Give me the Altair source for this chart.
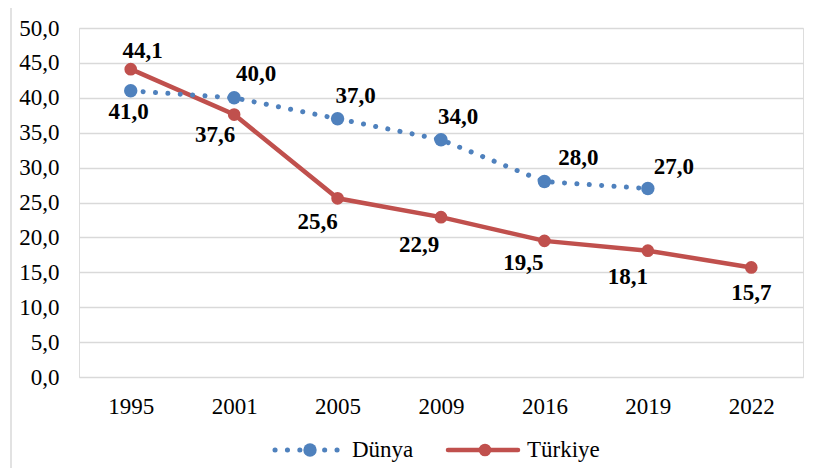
import altair as alt
import pandas as pd

years = ["1995", "2001", "2005", "2009", "2016", "2019", "2022"]
dunya = [41.0, 40.0, 37.0, 34.0, 28.0, 27.0]
turkiye = [44.1, 37.6, 25.6, 22.9, 19.5, 18.1, 15.7]
series_names = ["Dünya", "Türkiye"]
colors = ["#4F81BD", "#C0504D"]

# label offsets (pixels) relative to each point
dunya_dx = [-2, 22, 18, 17, 34, 26]
dunya_dy = [21, -24, -23, -23, -24, -22]
turk_dx = [12, -19, -20, -22, -21, -20, 0]
turk_dy = [-18, 20, 24, 28, 22, 26, 26]

def fmt(v):
    return f"{v:.1f}".replace(".", ",")

rows = []
for i, v in enumerate(dunya):
    rows.append({"year": years[i], "value": v, "series": series_names[0],
                 "label": fmt(v), "dx": dunya_dx[i], "dy": dunya_dy[i]})
for i, v in enumerate(turkiye):
    rows.append({"year": years[i], "value": v, "series": series_names[1],
                 "label": fmt(v), "dx": turk_dx[i], "dy": turk_dy[i]})
df = pd.DataFrame(rows)

FONT = "'Liberation Serif', 'Times New Roman', 'DejaVu Serif', serif"
FS = 23

x = alt.X("year:O", sort=years, scale=alt.Scale(domain=years, paddingOuter=0.5, paddingInner=0),
          axis=alt.Axis(title=None, labelAngle=0, labelFontSize=FS, labelFont=FONT, labelColor="#000",
                        labelPadding=18, ticks=False, domain=False, grid=False))
y = alt.Y("value:Q", scale=alt.Scale(domain=[0, 50]),
          axis=alt.Axis(title=None, values=list(range(0, 51, 5)), labelExpr="replace(format(datum.value, '.1f'), '.', ',')",
                        labelFontSize=FS, labelFont=FONT, labelColor="#000", labelPadding=20,
                        ticks=False, domain=False, gridColor="#D9D9D9", gridWidth=1.5))

base = alt.Chart(df)

d = base.transform_filter(alt.datum.series == series_names[0])
t = base.transform_filter(alt.datum.series == series_names[1])

dline = d.mark_line(color=colors[0], strokeWidth=5, strokeDash=[0.1, 12.3], strokeCap="round").encode(x=x, y=y)
tline = t.mark_line(color=colors[1], strokeWidth=4.5).encode(x=x, y=y)
dpts = d.mark_circle(color=colors[0], size=180, opacity=1).encode(x=x, y=y)
tpts = t.mark_circle(color=colors[1], size=160, opacity=1).encode(x=x, y=y)

texts = []
for i in range(len(df)):
    r = df.iloc[i]
    texts.append(
        base.transform_filter((alt.datum.series == r["series"]) & (alt.datum.year == r["year"]))
        .mark_text(font=FONT, fontSize=FS, fontWeight="bold", color="#000",
                   dx=int(r["dx"]), dy=int(r["dy"]))
        .encode(x=x, y=y, text="label:N")
    )

# Legend (decoration)
leg_y = 422
leg = alt.Chart(pd.DataFrame({"series": series_names}))
l1 = leg.transform_filter(alt.datum.series == series_names[0]).mark_rule(
    color=colors[0], strokeWidth=5, strokeDash=[0.1, 12.3], strokeCap="round"
).encode(x=alt.value(196), x2=alt.value(262), y=alt.value(leg_y))
l1c = leg.transform_filter(alt.datum.series == series_names[0]).mark_circle(
    color=colors[0], size=180, opacity=1).encode(x=alt.value(231), y=alt.value(leg_y))
l1t = leg.transform_filter(alt.datum.series == series_names[0]).mark_text(
    font=FONT, fontSize=FS, align="left", baseline="middle", color="#000").encode(
    x=alt.value(273), y=alt.value(leg_y), text="series:N")
l2 = leg.transform_filter(alt.datum.series == series_names[1]).mark_rule(
    color=colors[1], strokeWidth=4.5, strokeCap="round"
).encode(x=alt.value(369), x2=alt.value(439), y=alt.value(leg_y))
l2c = leg.transform_filter(alt.datum.series == series_names[1]).mark_circle(
    color=colors[1], size=160, opacity=1).encode(x=alt.value(406), y=alt.value(leg_y))
l2t = leg.transform_filter(alt.datum.series == series_names[1]).mark_text(
    font=FONT, fontSize=FS, align="left", baseline="middle", color="#000").encode(
    x=alt.value(448), y=alt.value(leg_y), text="series:N")

# chart border (top and left visible)
b1 = leg.transform_filter(alt.datum.series == series_names[0]).mark_rule(color="#D9D9D9", strokeWidth=1.5).encode(
    x=alt.value(-68), x2=alt.value(800), y=alt.value(-24))
b2 = leg.transform_filter(alt.datum.series == series_names[0]).mark_rule(color="#D9D9D9", strokeWidth=1.5).encode(
    x=alt.value(-68), y=alt.value(-24), y2=alt.value(500))

chart = alt.layer(tline, dline, tpts, dpts, *texts, l1, l1c, l1t, l2, l2c, l2t, b1, b2).properties(
    width=724, height=349,
    autosize=alt.AutoSizeParams(type="none"),
    padding={"left": 71, "top": 20, "right": 6, "bottom": 91},
).configure_view(stroke=None).configure(background="white")

chart.save("out.html", embed_options={"renderer": "svg", "actions": False})
